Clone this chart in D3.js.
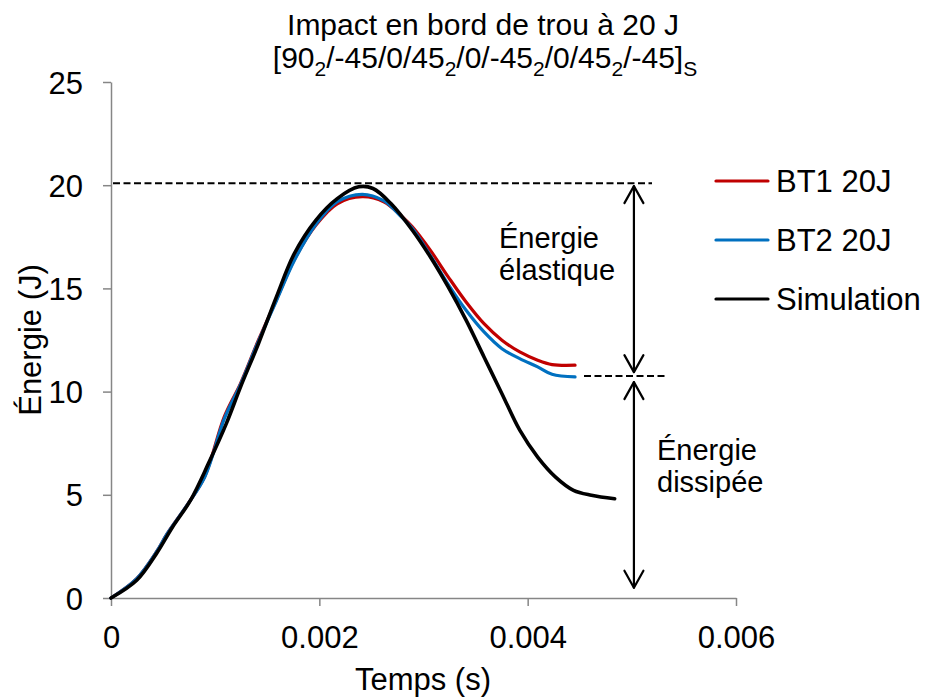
<!DOCTYPE html>
<html>
<head>
<meta charset="utf-8">
<script src="https://cdn.jsdelivr.net/npm/d3@7"></script>
<style>
  body { margin: 0; background: #fff; }
  text { font-family: "Liberation Sans", Arial, sans-serif; }
</style>
</head>
<body>
<svg id="chart" width="926" height="698"></svg>
<script>
// ---- Data ----
const seriesNames = ["BT1 20J", "BT2 20J", "Simulation"];
const seriesColors = ["#C00000", "#0070C0", "#000000"];

// time (s), energy (J)
const bt1Time = [0, 0.000247, 0.000436, 0.00054, 0.000729, 0.0009, 0.001089, 0.001244, 0.001416, 0.001588, 0.00176, 0.001966, 0.002172, 0.002412, 0.002618, 0.00279, 0.002893, 0.003065, 0.003237, 0.003409, 0.003581, 0.003753, 0.003924, 0.004096, 0.004234, 0.004455];
const bt1Energy = [0, 0.94, 2.23, 3.12, 4.49, 5.9, 8.8, 10.4, 12.5, 14.45, 16.4, 18.06, 19.1, 19.44, 19.2, 18.5, 17.98, 16.85, 15.56, 14.34, 13.29, 12.49, 11.92, 11.52, 11.31, 11.28];

const bt2Time = [0, 0.000247, 0.000436, 0.00054, 0.000729, 0.0009, 0.001089, 0.001244, 0.001416, 0.001588, 0.00176, 0.001966, 0.002172, 0.002412, 0.002618, 0.00279, 0.002893, 0.003065, 0.003237, 0.003409, 0.003581, 0.003753, 0.003924, 0.004096, 0.004234, 0.004455];
const bt2Energy = [0, 0.94, 2.23, 3.12, 4.49, 5.86, 8.7, 10.35, 12.45, 14.4, 16.35, 18.1, 19.2, 19.56, 19.25, 18.45, 17.9, 16.6, 15.2, 13.94, 12.89, 12.08, 11.6, 11.2, 10.84, 10.71];

const simTime = [0, 0.000247, 0.000436, 0.000591, 0.000763, 0.000935, 0.001107, 0.001244, 0.001416, 0.001588, 0.00176, 0.001966, 0.002172, 0.002378, 0.002515, 0.002687, 0.002893, 0.003065, 0.003237, 0.003409, 0.003581, 0.003753, 0.003924, 0.004096, 0.004268, 0.00444, 0.004612, 0.004835];
const simEnergy = [0, 0.86, 2.15, 3.44, 4.73, 6.51, 8.45, 10.23, 12.33, 14.59, 16.69, 18.3, 19.35, 19.92, 19.84, 19.11, 17.82, 16.53, 15.07, 13.46, 11.68, 9.9, 8.13, 6.83, 5.86, 5.22, 4.98, 4.81];

const xTicks = [0, 0.002, 0.004, 0.006];
const xTickLabels = ["0", "0.002", "0.004", "0.006"];
const yTicks = [0, 5, 10, 15, 20, 25];

// annotation levels (J)
const maxLevel = 20.1;
const residualLevel = 10.75;
const annotX = 0.00502;

// ---- Drawing ----
const svg = d3.select("#chart");
const x = d3.scaleLinear().domain([0, 0.006]).range([111, 736]);
const y = d3.scaleLinear().domain([0, 25]).range([598, 82]);
const axisColor = "#868686";
const FS = "31px";

// axes
const xAxis = svg.append("g").attr("transform", "translate(0,598)")
  .call(d3.axisBottom(x).tickValues(xTicks).tickFormat((d, i) => xTickLabels[i]).tickSize(8).tickSizeOuter(0));
const yAxis = svg.append("g").attr("transform", "translate(111,0)")
  .call(d3.axisLeft(y).tickValues(yTicks).tickSize(8).tickSizeOuter(0));
[xAxis, yAxis].forEach(g => {
  g.select(".domain").attr("stroke", axisColor).attr("stroke-width", 1.5);
  g.selectAll(".tick line").attr("stroke", axisColor).attr("stroke-width", 1.5);
  g.selectAll(".tick text").attr("fill", "#000").style("font-size", FS)
    .style("font-family", "'Liberation Sans', Arial, sans-serif");
});
xAxis.selectAll(".tick text").attr("dy", 0).attr("y", 50);
yAxis.selectAll(".tick text").attr("x", -28).attr("dy", "0.36em");

// series
const line = d3.line().x(d => x(d[0])).y(d => y(d[1])).curve(d3.curveCatmullRom.alpha(0.5));
const series = [
  { name: seriesNames[0], color: seriesColors[0], data: d3.zip(bt1Time, bt1Energy), w: 3.2 },
  { name: seriesNames[1], color: seriesColors[1], data: d3.zip(bt2Time, bt2Energy), w: 3.2 },
  { name: seriesNames[2], color: seriesColors[2], data: d3.zip(simTime, simEnergy), w: 3.6 }
];
series.forEach(s => {
  svg.append("path").datum(s.data).attr("d", line)
    .attr("fill", "none").attr("stroke", s.color).attr("stroke-width", s.w)
    .attr("stroke-linejoin", "round").attr("stroke-linecap", "round");
});

// dashed reference lines
svg.append("line").attr("x1", x(0) + 2).attr("x2", 652)
  .attr("y1", y(maxLevel)).attr("y2", y(maxLevel))
  .attr("stroke", "#000").attr("stroke-width", 2).attr("stroke-dasharray", "7,3.5");
svg.append("line").attr("x1", 584).attr("x2", 667)
  .attr("y1", y(residualLevel)).attr("y2", y(residualLevel))
  .attr("stroke", "#000").attr("stroke-width", 2).attr("stroke-dasharray", "7,3.5");

// double arrows
function doubleArrow(xp, y1, y2) {
  const g = svg.append("g").attr("stroke", "#000").attr("stroke-width", 2.2).attr("fill", "none")
    .attr("stroke-linecap", "round").attr("stroke-linejoin", "round");
  g.append("line").attr("x1", xp).attr("x2", xp).attr("y1", y1).attr("y2", y2);
  g.append("path").attr("d", `M${xp - 9.5},${y1 + 17} L${xp},${y1} L${xp + 9.5},${y1 + 17}`);
  g.append("path").attr("d", `M${xp - 9.5},${y2 - 17} L${xp},${y2} L${xp + 9.5},${y2 - 17}`);
}
doubleArrow(x(annotX), y(maxLevel) + 3, y(residualLevel) - 4);
doubleArrow(x(annotX), y(residualLevel) + 6, y(0.5));

// annotation labels
const annStyle = s => s.style("font-size", "29px").attr("fill", "#000");
annStyle(svg.append("text").attr("x", 499).attr("y", 248).text("Énergie"));
annStyle(svg.append("text").attr("x", 499).attr("y", 280).text("élastique"));
annStyle(svg.append("text").attr("x", 657).attr("y", 460).text("Énergie"));
annStyle(svg.append("text").attr("x", 657).attr("y", 492).text("dissipée"));

// legend
const legendY = [181, 240, 299];
series.forEach((s, i) => {
  svg.append("line").attr("x1", 716).attr("x2", 768).attr("y1", legendY[i]).attr("y2", legendY[i])
    .attr("stroke", s.color).attr("stroke-width", 3.2).attr("stroke-linecap", "round");
  svg.append("text").attr("x", 776).attr("y", legendY[i]).attr("dy", "0.36em")
    .style("font-size", FS).attr("fill", "#000").text(s.name);
});

// title
svg.append("text").attr("x", 483).attr("y", 35).attr("text-anchor", "middle")
  .style("font-size", "30px").attr("fill", "#000").text("Impact en bord de trou à 20 J");
const t2 = svg.append("text").attr("x", 485).attr("y", 68).attr("text-anchor", "middle")
  .style("font-size", "30px").attr("fill", "#000");
const parts = [["[90", false], ["2", true], ["/-45/0/45", false], ["2", true], ["/0/-45", false], ["2", true], ["/0/45", false], ["2", true], ["/-45]", false], ["S", true]];
parts.forEach(([txt, sub], i) => {
  const prevSub = i > 0 && parts[i - 1][1];
  const dy = sub ? 8 : (prevSub ? -8 : 0);
  t2.append("tspan").attr("dy", dy).style("font-size", sub ? "21px" : "30px").text(txt);
});

// axis titles
svg.append("text").attr("x", 423).attr("y", 690).attr("text-anchor", "middle")
  .style("font-size", FS).attr("fill", "#000").text("Temps (s)");
svg.append("text").attr("transform", "translate(41,340) rotate(-90)").attr("text-anchor", "middle")
  .style("font-size", FS).attr("fill", "#000").text("Énergie (J)");
</script>
</body>
</html>
